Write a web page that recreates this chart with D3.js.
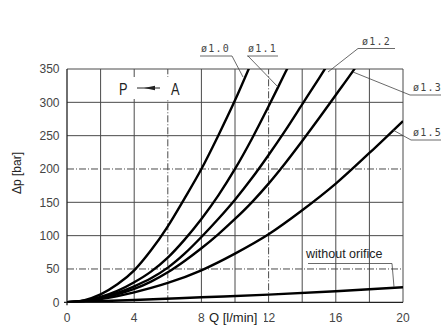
<!DOCTYPE html>
<html><head><meta charset="utf-8">
<script src="https://cdn.jsdelivr.net/npm/d3@7"></script>
<style>body{margin:0;background:#fff}svg{display:block}</style>
</head><body>
<svg id="c" width="441" height="325"></svg>
<script>
// ---- data ----
const xTicks = [0, 4, 8, 12, 16, 20];
const yTicks = [0, 50, 100, 150, 200, 250, 300, 350];
const xGrid = [2, 4, 6, 8, 10, 12, 14, 16, 18, 20];
const yGrid = [50, 100, 150, 200, 250, 300, 350];
const dashedX = [6, 12];
const dashedY = [50, 200];
const seriesNames = ["ø1.0", "ø1.1", "ø1.2", "ø1.3", "ø1.5", "without orifice"];
const q10 = [0, 1, 2, 3, 4, 5, 6, 7, 8, 9, 10, 10.9];
const p10 = [0, 3, 12, 27, 48, 78, 114, 156, 200, 250, 303, 355];
const q11 = [0, 1, 2, 3, 4, 5, 6, 7, 8, 9, 10, 11, 12, 13, 13.3];
const p11 = [0, 2, 8, 17, 30, 46, 67, 94, 125, 160, 200, 245, 294, 345, 360];
const q12 = [0, 1, 2, 3, 4, 5, 6, 7, 8, 9, 10, 11, 12, 13, 14, 15, 15.6];
const p12 = [0, 2, 7, 14, 24, 36, 52, 73, 98, 125, 154, 186, 221, 258, 297, 336, 360];
const q13 = [0, 1, 2, 3, 4, 5, 6, 7, 8, 9, 10, 11, 12, 13, 14, 15, 16, 17, 17.3];
const p13 = [0, 2, 6, 12, 20, 31, 45, 62, 81, 102, 125, 150, 178, 209, 242, 276, 311, 346, 357];
const q15 = [0, 2, 4, 6, 8, 10, 12, 14, 16, 18, 20];
const p15 = [0, 5, 15, 29, 48, 73, 102, 138, 178, 224, 272];
const q0 = [0, 4, 8, 12, 16, 20];
const p0 = [0, 3.5, 7.5, 11.5, 16.5, 22.5];
const seriesQ = [q10, q11, q12, q13, q15, q0];
const seriesP = [p10, p11, p12, p13, p15, p0];

// ---- layout ----
const svg = d3.select("#c");
const x = d3.scaleLinear().domain([0, 20]).range([67, 403]);
const y = d3.scaleLinear().domain([0, 350]).range([302.3, 69]);
const gridCol = "#4a4a4a";

// grid
const g = svg.append("g");
g.selectAll("line.vx").data(xGrid).join("line")
  .attr("x1", d => x(d)).attr("x2", d => x(d))
  .attr("y1", y(0)).attr("y2", y(350))
  .attr("stroke", gridCol).attr("stroke-width", 1)
  .attr("stroke-dasharray", d => dashedX.includes(d) ? "7,2,1,2" : null);
g.selectAll("line.hy").data(yGrid).join("line")
  .attr("x1", x(0)).attr("x2", x(20))
  .attr("y1", d => y(d)).attr("y2", d => y(d))
  .attr("stroke", gridCol).attr("stroke-width", 1)
  .attr("stroke-dasharray", d => dashedY.includes(d) ? "7,2,1,2" : null);
// axes
g.append("line").attr("x1", x(0)).attr("x2", x(0)).attr("y1", y(0) + 3).attr("y2", y(350)).attr("stroke", "#222").attr("stroke-width", 1.3);
g.append("line").attr("x1", x(0) - 3).attr("x2", x(20)).attr("y1", y(0)).attr("y2", y(0)).attr("stroke", "#222").attr("stroke-width", 1.3);

// P -> A box
const tf = "Liberation Sans, Arial, sans-serif";
svg.append("rect").attr("x", 110).attr("y", 77).attr("width", 76).attr("height", 22).attr("fill", "#fff");
svg.append("text").attr("x", 119).attr("y", 95.5).attr("font-family", tf)
  .attr("font-size", 16).attr("fill", "#222").attr("transform", "translate(119,0) scale(0.8,1) translate(-119,0)").text("P");
svg.append("text").attr("x", 171).attr("y", 95.5).attr("font-family", tf)
  .attr("font-size", 16).attr("fill", "#222").attr("transform", "translate(171,0) scale(0.8,1) translate(-171,0)").text("A");
svg.append("line").attr("x1", 137).attr("x2", 160).attr("y1", 88).attr("y2", 88).attr("stroke", "#222").attr("stroke-width", 1);
svg.append("path").attr("d", "M144,88 L155,85.8 L155,90.2 Z").attr("fill", "#222");

// curves
svg.append("clipPath").attr("id", "clip").append("rect")
  .attr("x", x(0)).attr("y", y(350)).attr("width", x(20) - x(0)).attr("height", y(0) - y(350));
const line = d3.line().x(d => x(d[0])).y(d => y(d[1])).curve(d3.curveMonotoneX);
svg.append("g").attr("clip-path", "url(#clip)")
  .selectAll("path").data(seriesQ.map((qs, i) => qs.map((q, j) => [q, seriesP[i][j]]))).join("path")
  .attr("d", line).attr("fill", "none").attr("stroke", "#000").attr("stroke-width", 2.4)
  .attr("stroke-linejoin", "round");

// tick labels
svg.append("g").selectAll("text").data(yTicks).join("text")
  .attr("x", 59.5).attr("y", d => y(d) + 4.3).attr("text-anchor", "end")
  .attr("font-family", tf).attr("font-size", 12).attr("fill", "#444").text(d => d);
svg.append("g").selectAll("text").data(xTicks).join("text")
  .attr("x", d => x(d)).attr("y", 321.5).attr("text-anchor", "middle")
  .attr("font-family", tf).attr("font-size", 12).attr("fill", "#444").text(d => d);

// axis titles
svg.append("rect").attr("x", 207).attr("y", 310).attr("width", 57).attr("height", 15).attr("fill", "#fff");
svg.append("text").attr("x", 209).attr("y", 322).attr("font-family", tf).attr("font-size", 13)
  .attr("fill", "#222").text("Q [l/min]");
svg.append("text").attr("transform", "translate(20.5,173) rotate(-90)").attr("text-anchor", "middle")
  .attr("font-family", tf).attr("font-size", 12).attr("fill", "#222").text("Δp [bar]");

// callout labels
const callouts = [
  {tx: 201, ty: 52, u1: 200, u2: 232, uy: 56, lx1: 232, lx2: 243, ly2: 77, mono: true},
  {tx: 248, ty: 52, u1: 247, u2: 278, uy: 56, lx1: 248, lx2: 278, ly2: 87, mono: true},
  {tx: 362, ty: 44.5, u1: 358, u2: 395, uy: 48.5, lx1: 358, lx2: 328, ly2: 72, mono: true},
  {tx: 413, ty: 91, u1: 410, u2: 441, uy: 95, lx1: 410, lx2: 353, ly2: 72, mono: true},
  {tx: 413, ty: 135.5, u1: 411, u2: 441, uy: 140, lx1: 411, lx2: 393, ly2: 130, mono: true},
  {tx: 306, ty: 258, u1: 308, u2: 392, uy: 263.5, lx1: 392, lx2: 394, ly2: 287, mono: false}
];
const cg = svg.append("g");
callouts.forEach((c, i) => {
  cg.append("line").attr("x1", c.u1).attr("x2", c.u2).attr("y1", c.uy).attr("y2", c.uy)
    .attr("stroke", "#444").attr("stroke-width", 0.8);
  cg.append("line").attr("x1", c.lx1).attr("y1", c.uy).attr("x2", c.lx2).attr("y2", c.ly2)
    .attr("stroke", "#444").attr("stroke-width", 0.8);
  const t = cg.append("text").attr("x", c.tx).attr("y", c.ty).text(seriesNames[i]);
  if (c.mono) t.attr("font-family", "DejaVu Sans Mono, monospace").attr("font-size", 10).attr("letter-spacing", 1.2).attr("fill", "#444");
  else t.attr("font-family", tf).attr("font-size", 12.5).attr("fill", "#222");
});
</script>
</body></html>
